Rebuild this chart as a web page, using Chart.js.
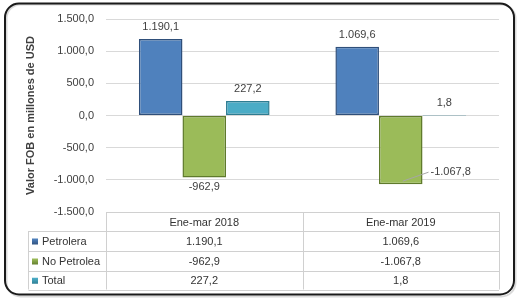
<!DOCTYPE html>
<html>
<head>
<meta charset="utf-8">
<script src="https://cdn.jsdelivr.net/npm/chart.js@4.4.1/dist/chart.umd.min.js"></script>
<style>
  html, body { margin: 0; padding: 0; background: #fff; }
  #grafico { display: block; }
</style>
</head>
<body>
<canvas id="grafico" width="518" height="302"></canvas>
<script>
// Datos de la balanza (millones de USD)
const periodos = ['Ene-mar 2018', 'Ene-mar 2019'];
const nombresSeries = ['Petrolera', 'No Petrolea', 'Total'];
const petrolera = [1190.1, 1069.6];
const noPetrolera = [-962.9, -1067.8];
const total = [227.2, 1.8];
const ticksY = [-1500, -1000, -500, 0, 500, 1000, 1500];

const colores = ['#4f81bd', '#9bbb59', '#4bacc6'];
const bordes = ['#2f4f7a', '#5f7a2c', '#2e7c91'];

// Formato español: 1.190,1
function formatoEs(v) {
    const neg = v < 0;
    let [ent, dec] = Math.abs(v).toFixed(1).split('.');
    ent = ent.replace(/\B(?=(\d{3})+(?!\d))/g, '.');
    return (neg ? '-' : '') + ent + ',' + dec;
}

Chart.defaults.font.family = 'Liberation Sans';
Chart.defaults.font.size = 11;
Chart.defaults.color = '#404040';

// Marco redondeado alrededor del gráfico
const marco = {
    id: 'marco',
    beforeDraw(chart) {
        const ctx = chart.ctx;
        ctx.save();
        ctx.fillStyle = '#fff';
        ctx.fillRect(0, 0, chart.width, chart.height);
        ctx.strokeStyle = 'rgba(0,0,0,0.15)';
        ctx.lineWidth = 2;
        ctx.beginPath();
        ctx.roundRect(6.5, 4.5, 509, 292, 14);
        ctx.stroke();
        ctx.strokeStyle = '#1a1a1a';
        ctx.lineWidth = 2;
        ctx.beginPath();
        ctx.roundRect(5, 3.5, 509, 291, 14);
        ctx.stroke();
        ctx.restore();
    }
};

// Etiquetas de valores sobre las barras
const etiquetas = {
    id: 'etiquetas',
    afterDatasetsDraw(chart) {
        const ctx = chart.ctx;
        ctx.save();
        ctx.font = '11px "Liberation Sans"';
        ctx.fillStyle = '#404040';
        ctx.textBaseline = 'middle';
        chart.data.datasets.forEach((ds, i) => {
            const meta = chart.getDatasetMeta(i);
            meta.data.forEach((el, j) => {
                const v = ds.data[j];
                const txt = formatoEs(v);
                if (v < -1000) {
                    // etiqueta desplazada a la derecha con línea guía
                    const w = el.width / 2;
                    ctx.strokeStyle = '#a6a6a6';
                    ctx.lineWidth = 1;
                    ctx.beginPath();
                    ctx.moveTo(el.x + 2, el.y - 3);
                    ctx.lineTo(el.x + w + 6, el.y - 12);
                    ctx.stroke();
                    ctx.textAlign = 'left';
                    ctx.fillText(txt, el.x + w + 8, el.y - 12);
                } else if (v >= 0) {
                    ctx.textAlign = 'center';
                    ctx.fillText(txt, el.x, el.y - 12);
                } else {
                    ctx.textAlign = 'center';
                    ctx.fillText(txt, el.x, el.y + 10);
                }
            });
        });
        ctx.restore();
    }
};

// Tabla de datos bajo el gráfico
const tablaDatos = {
    id: 'tablaDatos',
    afterDraw(chart) {
        const ctx = chart.ctx;
        const area = chart.chartArea;
        const izq = area.left, der = area.right, medio = (izq + der) / 2;
        const arriba = area.bottom;
        const filas = [arriba, 231, 251, 271, 289.5];
        const tablaIzq = 28.5;
        const cols = [[izq, medio], [medio, der]];
        ctx.save();
        ctx.strokeStyle = '#d0d0d0';
        ctx.lineWidth = 1;
        ctx.beginPath();
        ctx.moveTo(izq, Math.round(arriba) + 0.5);
        ctx.lineTo(der, Math.round(arriba) + 0.5);
        for (let k = 1; k < filas.length; k++) {
            ctx.moveTo(tablaIzq, Math.round(filas[k]) + 0.5);
            ctx.lineTo(der, Math.round(filas[k]) + 0.5);
        }
        [izq, medio, der].forEach(x => {
            ctx.moveTo(Math.round(x) + 0.5, arriba);
            ctx.lineTo(Math.round(x) + 0.5, filas[filas.length - 1]);
        });
        ctx.moveTo(tablaIzq, filas[1]);
        ctx.lineTo(tablaIzq, filas[filas.length - 1]);
        ctx.stroke();

        ctx.font = '11px "Liberation Sans"';
        ctx.fillStyle = '#333';
        ctx.textBaseline = 'middle';
        ctx.textAlign = 'center';
        periodos.forEach((p, c) => {
            ctx.fillText(p, (cols[c][0] + cols[c][1]) / 2, (filas[0] + filas[1]) / 2 + 1);
        });
        chart.data.datasets.forEach((ds, i) => {
            const yc = (filas[i + 1] + filas[i + 2]) / 2 + 1;
            ctx.textAlign = 'center';
            ctx.fillStyle = '#333';
            ds.data.forEach((v, c) => {
                ctx.fillText(formatoEs(v), (cols[c][0] + cols[c][1]) / 2, yc);
            });
            // clave de leyenda
            const g = ctx.createLinearGradient(0, yc - 3, 0, yc + 3);
            g.addColorStop(0, colores[i]);
            g.addColorStop(1, bordes[i]);
            ctx.fillStyle = g;
            ctx.fillRect(32, yc - 3.5, 6, 6);
            ctx.fillStyle = '#333';
            ctx.textAlign = 'left';
            ctx.fillText(ds.label, 42, yc);
        });
        ctx.restore();
    }
};

const datasets = [petrolera, noPetrolera, total].map((d, i) => ({
    label: nombresSeries[i],
    data: d,
    backgroundColor: colores[i],
    borderColor: bordes[i],
    borderWidth: 1.5,
    borderSkipped: false
}));

new Chart(document.getElementById('grafico'), {
    type: 'bar',
    data: { labels: periodos, datasets: datasets },
    options: {
        responsive: false,
        animation: false,
        devicePixelRatio: 1,
        layout: { padding: { left: 20, top: 19, right: 19, bottom: 90 } },
        datasets: { bar: { barPercentage: 1, categoryPercentage: 0.665 } },
        plugins: {
            legend: { display: false },
            tooltip: { enabled: false }
        },
        scales: {
            x: { display: false },
            y: {
                min: -1500,
                max: 1500,
                afterBuildTicks: scale => { scale.ticks = ticksY.map(v => ({ value: v })); },
                afterFit: scale => { scale.width = 86; },
                border: { display: false },
                grid: { color: '#d9d9d9', drawTicks: false },
                ticks: {
                    padding: 12,
                    color: '#404040',
                    callback: v => formatoEs(v)
                },
                title: {
                    display: true,
                    text: 'Valor FOB en millones de USD',
                    color: '#404040',
                    font: { size: 11, weight: 'bold' },
                    padding: { top: 4, bottom: 0 }
                }
            }
        }
    },
    plugins: [marco, etiquetas, tablaDatos]
});
</script>
</body>
</html>
